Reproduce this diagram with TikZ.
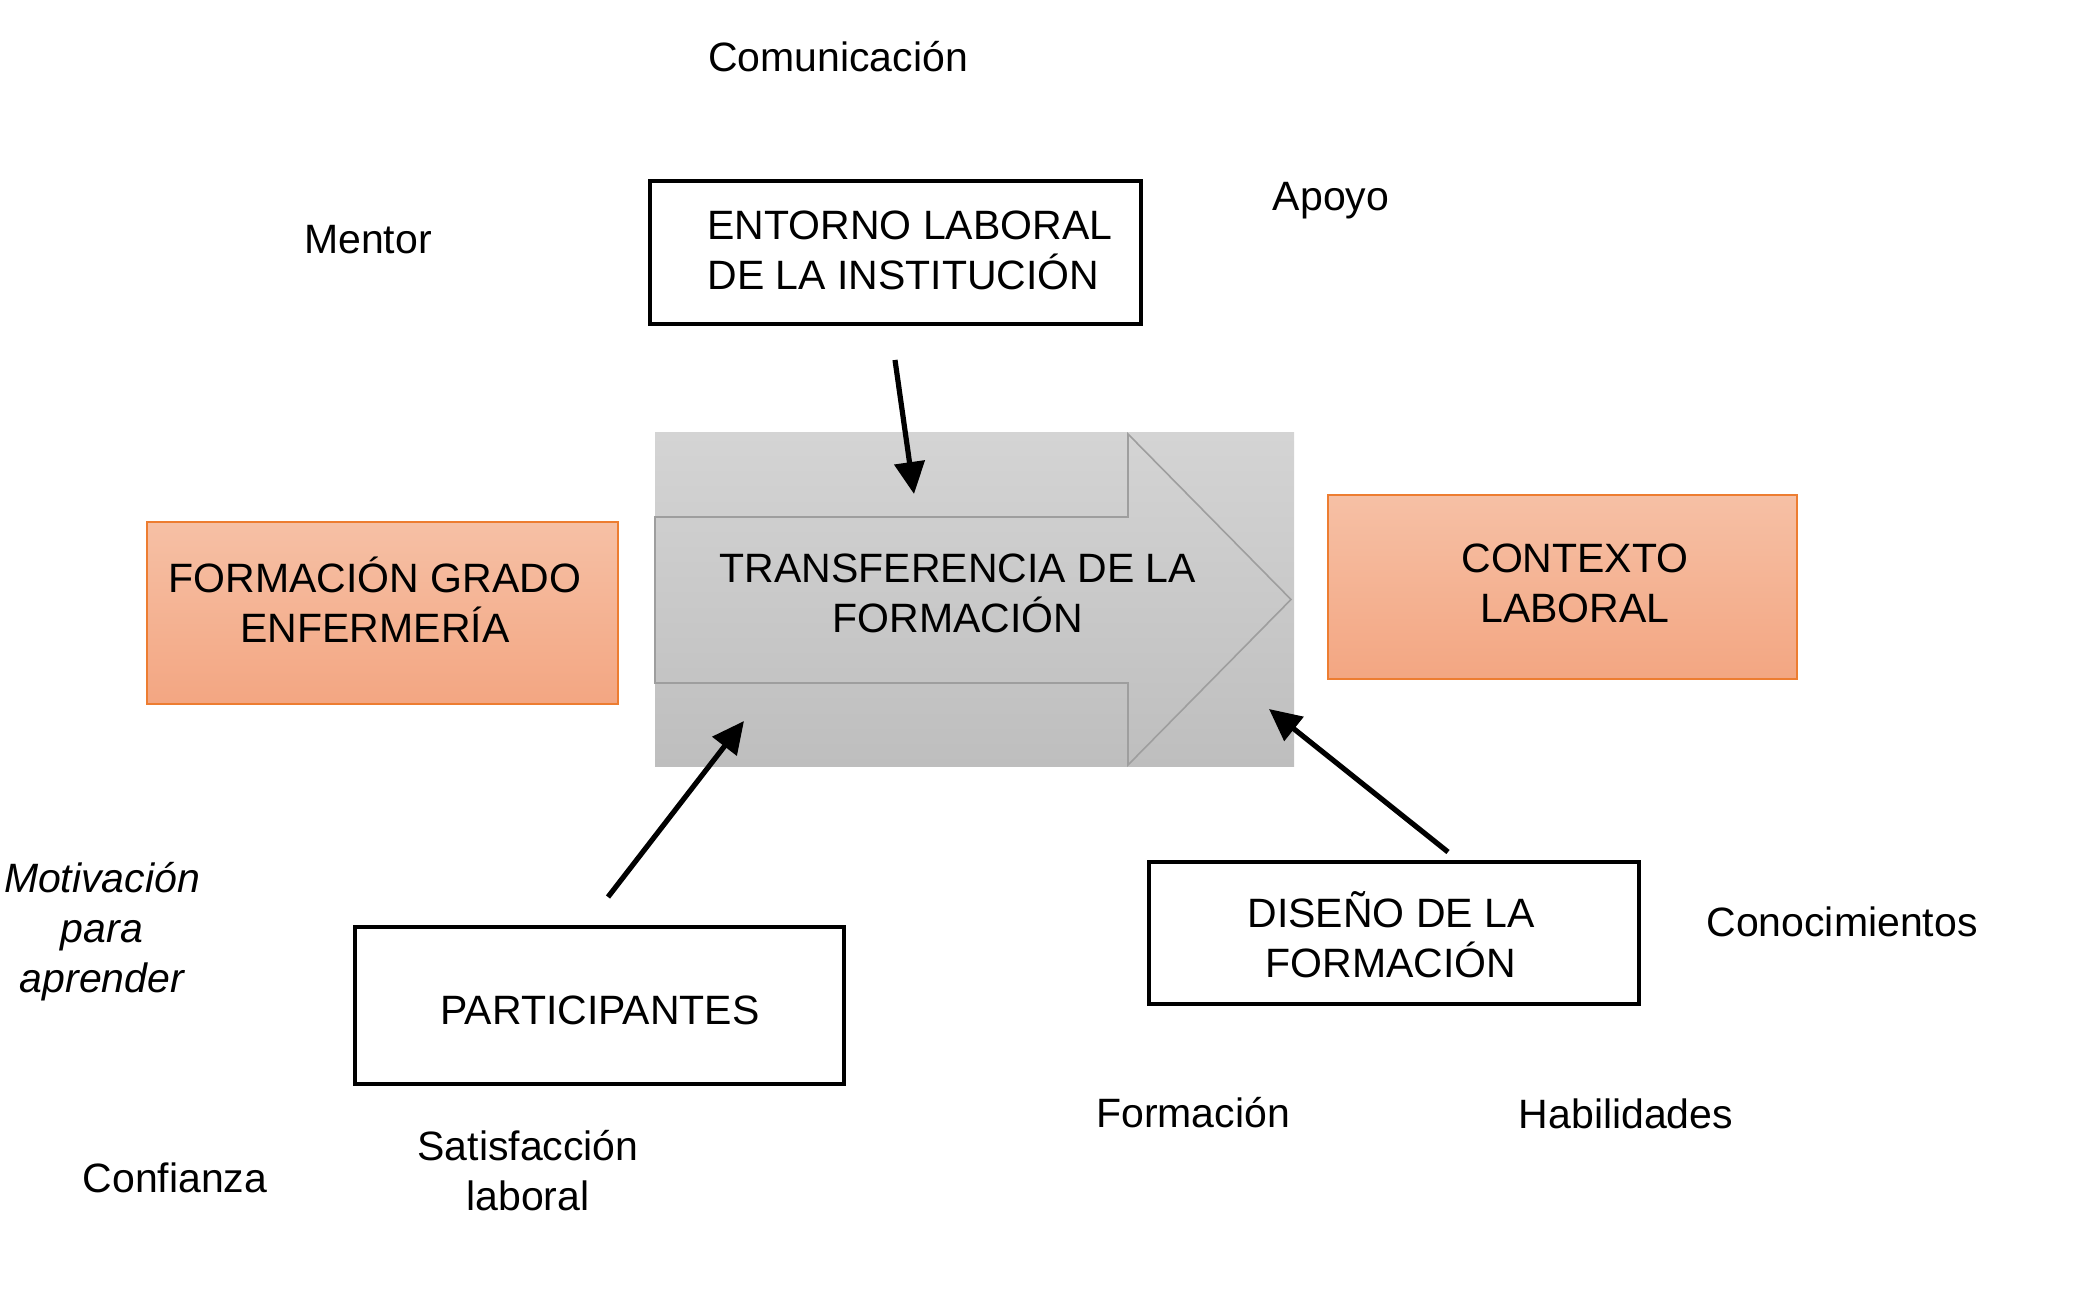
\documentclass[tikz,border=0pt]{standalone}
\usepackage{fontspec}
\setmainfont{Liberation Sans}
\usetikzlibrary{arrows.meta}
\definecolor{orTop}{RGB}{246,192,165}
\definecolor{orBot}{RGB}{243,166,130}
\definecolor{orLine}{RGB}{237,125,49}
\definecolor{gTop}{RGB}{212,212,212}
\definecolor{gBot}{RGB}{190,190,190}
\definecolor{gLine}{RGB}{158,158,158}
\begin{document}
\begin{tikzpicture}[x=0.5pt,y=-0.5pt,
  every node/.style={font=\fontsize{20.5}{25}\selectfont, inner sep=0pt, align=center},
  whitebox/.style={draw=black, line width=2pt, fill=white},
  orbox/.style={draw=orLine, line width=1.4pt, top color=orTop, bottom color=orBot},
  graybg/.style={top color=gTop, bottom color=gBot},
  conn/.style={line width=2.6pt, -{Triangle[length=16pt,width=15pt]}}
]
\useasboundingbox (0,0) rectangle (2083,1315);

% central gray area with outlined arrow
\node[graybg, minimum width=319.5pt, minimum height=166.5pt] (bg) at (974.5,599.5) {};
\draw[gLine, line width=0.8pt] (655,517) -- (1128,517) -- (1128,434) -- (1291,599.5) -- (1128,765) -- (1128,683) -- (655,683) -- cycle;
\node (tr) at (958,593) {TRANSFERENCIA DE LA\\FORMACIÓN};

% orange boxes
\node[orbox, minimum width=235.5pt, minimum height=91pt] (fg) at (382.5,613) {};
\node (fgt) at (375,600) {FORMACIÓN GRADO\\ENFERMERÍA};
\node[orbox, minimum width=234.5pt, minimum height=92pt] (cl) at (1562.5,587) {};
\node (clt) at (1575,583) {CONTEXTO\\LABORAL};

% white boxes
\node[whitebox, minimum width=245.5pt, minimum height=71.5pt] (en) at (895.5,252.5) {};
\node[anchor=west, align=left] (ent) at (707,250) {ENTORNO LABORAL\\DE LA INSTITUCIÓN};
\node[whitebox, minimum width=244.5pt, minimum height=78.5pt] (pa) at (599.5,1005.5) {};
\node (pat) at (600,1010) {PARTICIPANTES};
\node[whitebox, minimum width=245pt, minimum height=71pt] (di) at (1394,933) {};
\node (dit) at (1391,935) {DISEÑO DE LA\\FORMACIÓN};

% connectors
\coordinate (a1s) at (895,360);
\coordinate (a1e) at (914,494);
\coordinate (a2s) at (608,897);
\coordinate (a2e) at (744,721);
\coordinate (a3s) at (1448,852);
\coordinate (a3e) at (1269,709);
\draw[conn] (a1s) -- (a1e);
\draw[conn] (a2s) -- (a2e);
\draw[conn] (a3s) -- (a3e);

% free labels
\node (com) at (838,57) {Comunicación};
\node (apo) at (1331,201) {Apoyo};
\node (men) at (368,240) {Mentor};
\node[font=\fontsize{20.5}{25}\selectfont\itshape] (mot) at (102,932) {Motivación\\para\\aprender\hspace{0.5em}};
\node (con) at (175,1178) {Confianza};
\node (sat) at (528,1171) {Satisfacción\\laboral};
\node (for) at (1193,1113) {Formación};
\node (hab) at (1626,1114) {Habilidades};
\node (cono) at (1842,922) {Conocimientos};
\end{tikzpicture}
\end{document}
